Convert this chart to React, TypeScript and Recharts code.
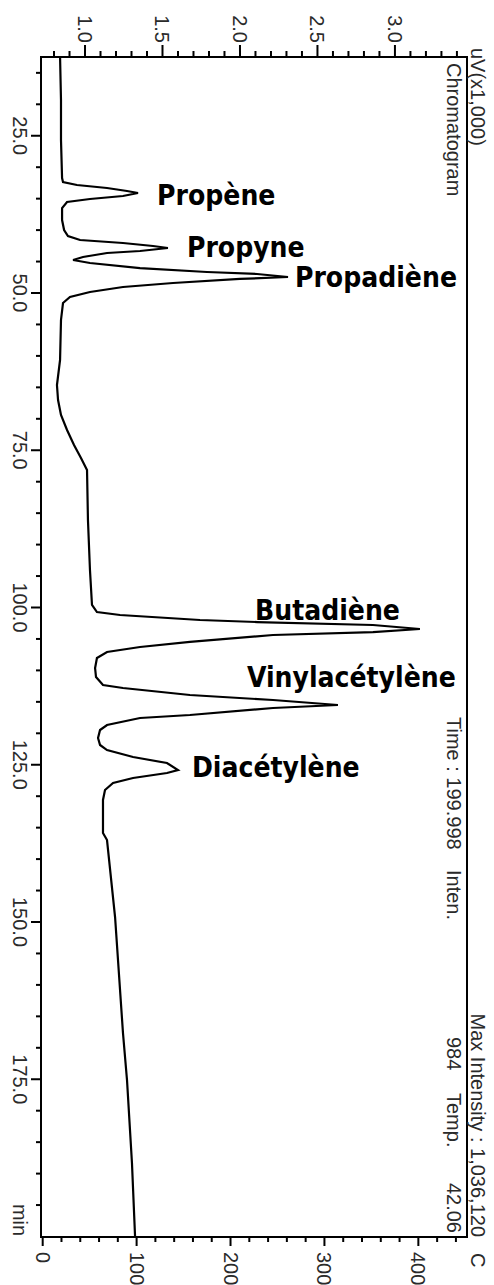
import React from 'react';
import { LineChart, Line, XAxis, YAxis, ReferenceArea, ReferenceDot } from 'recharts';

// Retention time (min) and detector signal (uV x1,000)
const timeMin = [
  // baseline + Propène
  12.48, 19.32, 25.68, 31.72, 32.35, 32.83, 33.31, 33.78, 34.10, 34.58, 35.06, 35.53, 36.49, 38.40, 39.98,
  // Propyne
  40.94, 41.57, 42.05, 42.53, 42.85, 43.32, 43.64, 44.28, 44.75,
  // Propadiène
  45.23, 46.03, 46.66, 46.98, 47.46, 47.77, 48.41, 49.05, 49.84, 50.64, 51.59,
  // baseline shift
  54.29, 60.65, 64.63, 67.01, 69.40, 71.78, 74.17, 76.23, 78.14, 86.09, 94.04, 99.60,
  // Butadiène
  100.72, 101.19, 101.99, 102.31, 102.78, 103.42, 103.90, 104.37, 105.48, 106.28, 107.07, 108.03, 109.62, 111.05,
  // Vinylacétylène
  112.32, 112.80, 113.91, 114.71, 115.50, 115.98, 117.09, 117.57, 118.68, 119.48, 120.75, 121.86,
  // Diacétylène
  122.66, 123.77, 124.72, 125.84, 126.31, 127.11, 127.90, 129.01, 130.60,
  // drift
  135.85, 136.97, 149.21, 167.65, 175.12, 188.32, 200.0,
];
const signal = [
  0.839, 0.845, 0.845, 0.852, 0.858, 0.948, 1.142, 1.271, 1.342, 1.245, 1.032, 0.884, 0.852, 0.852, 0.865,
  0.890, 0.968, 1.245, 1.439, 1.535, 1.355, 1.142, 0.987, 0.923,
  1.032, 1.355, 1.787, 2.110, 2.310, 2.000, 1.568, 1.245, 1.032, 0.903, 0.858,
  0.845, 0.839, 0.819, 0.826, 0.845, 0.884, 0.929, 0.974, 1.013, 1.019, 1.032, 1.045,
  1.077, 1.226, 1.742, 2.110, 2.858, 3.161, 2.858, 2.213, 1.677, 1.355, 1.142, 1.077, 1.065, 1.071,
  1.116, 1.245, 1.677, 2.213, 2.632, 2.213, 1.677, 1.355, 1.142, 1.097, 1.084, 1.097,
  1.142, 1.310, 1.529, 1.600, 1.529, 1.310, 1.181, 1.129, 1.116,
  1.116, 1.142, 1.194, 1.245, 1.271, 1.303, 1.323,
];

// Peak names and where their labels sit (signal, time)
const compounds = ['Propène', 'Propyne', 'Propadiène', 'Butadiène', 'Vinylacétylène', 'Diacétylène'];
const labelTime = [36.01, 44.28, 49.05, 101.99, 112.64, 126.95];
const labelSignal = [1.465, 1.658, 2.355, 2.097, 2.045, 1.69];

// Axis ticks
const timeTicks = [15, 20, 25, 30, 35, 40, 45, 50, 55, 60, 65, 70, 75, 80, 85, 90, 95, 100, 105, 110, 115, 120, 125, 130, 135, 140, 145, 150, 155, 160, 165, 170, 175, 180, 185, 190, 195];
const signalTicks = [0.8, 0.9, 1.0, 1.1, 1.2, 1.3, 1.4, 1.5, 1.6, 1.7, 1.8, 1.9, 2.0, 2.1, 2.2, 2.3, 2.4, 2.5, 2.6, 2.7, 2.8, 2.9, 3.0, 3.1, 3.2, 3.3, 3.4];
const tempTicks = [0, 20, 40, 60, 80, 100, 120, 140, 160, 180, 200, 220, 240, 260, 280, 300, 320, 340, 360, 380, 400, 420, 440];
const timeDomain = [12.48, 200.08];
const signalDomain = [0.716, 3.465];
const tempDomain = [-1.8, 451.8];

// Header texts
const headerInside = ['Chromatogram', 'Time : 199.998', 'Inten.', '984', 'Temp.', '42.06'];
const headerOutside = ['uV(x1,000)', 'Max Intensity : 1,036,120', 'C'];

const AXFONT = "'Liberation Sans', Arial, sans-serif";
const AXCOL = '#2a2a2a';
const PEAKFONT = "'DejaVu Sans Condensed', 'DejaVu Sans', sans-serif";
const TICKLINE = { stroke: '#000', strokeWidth: 2 };

function RotText({ x, y, anchor, children }: any) {
  return (
    <text x={x} y={y} transform={`rotate(90 ${x} ${y})`} textAnchor={anchor} fontFamily={AXFONT} fontSize={20} fill={AXCOL}>
      {children}
    </text>
  );
}

// tick props x,y sit at the outer end of the native (minor-length) tick line
function TimeTick(props: any) {
  const { x, y, payload } = props;
  const v = payload.value;
  if (v % 25 !== 0) return <g />;
  return (
    <g>
      <rect x={x - 5} y={y - 1} width={5} height={2} fill="#000" />
      <RotText x={x - 23} y={y} anchor="middle">{v.toFixed(1)}</RotText>
    </g>
  );
}

function TopTick(props: any) {
  const { x, y, payload } = props;
  const v = payload.value;
  const major = Math.abs(v * 2 - Math.round(v * 2)) < 1e-6;
  if (!major) return <g />;
  return (
    <g>
      <rect x={x - 1} y={y - 6} width={2} height={6} fill="#000" />
      <RotText x={x - 7} y={y - 8} anchor="end">{v.toFixed(1)}</RotText>
    </g>
  );
}

function BottomTick(props: any) {
  const { x, y, payload } = props;
  const v = payload.value;
  if (v % 100 !== 0) return <g />;
  return (
    <g>
      <rect x={x - 1} y={y} width={2} height={4} fill="#000" />
      <RotText x={x - 7} y={y + 10} anchor="start">{String(v)}</RotText>
    </g>
  );
}

function MinLabel(props: any) {
  const vb = props.viewBox || {};
  return <RotText x={vb.x + 13} y={vb.y + vb.height - 17} anchor="middle">min</RotText>;
}

function HeaderTexts(props: any) {
  const vb = props.viewBox || {};
  const right = vb.x + vb.width;
  const top = vb.y;
  const bottom = vb.y + vb.height;
  const inX = right - 20;
  const outX = right + 4;
  return (
    <g>
      <RotText x={inX} y={top + 6} anchor="start">{headerInside[0]}</RotText>
      <RotText x={inX} y={bottom - 520} anchor="start">{headerInside[1]}</RotText>
      <RotText x={inX} y={bottom - 367} anchor="start">{headerInside[2]}</RotText>
      <RotText x={inX} y={bottom - 200} anchor="start">{headerInside[3]}</RotText>
      <RotText x={inX} y={bottom - 144} anchor="start">{headerInside[4]}</RotText>
      <RotText x={inX} y={bottom - 4} anchor="end">{headerInside[5]}</RotText>
      <RotText x={outX} y={top - 9} anchor="start">{headerOutside[0]}</RotText>
      <RotText x={outX} y={bottom} anchor="end">{headerOutside[1]}</RotText>
      <RotText x={outX} y={bottom + 16} anchor="start">{headerOutside[2]}</RotText>
    </g>
  );
}

export default function App() {
  const data = timeMin.map((t, i) => ({ t, s: signal[i] }));
  return (
    <div style={{ position: 'absolute', left: 0, top: 0, width: 494, height: 1285, background: '#fff' }}>
      <LineChart width={494} height={1285} data={data} layout="vertical" margin={{ top: 0, right: 27, bottom: 0, left: 0 }}>
        <XAxis xAxisId="sig" type="number" orientation="top" domain={signalDomain} allowDataOverflow ticks={signalTicks} interval={0} height={57} tickSize={6} tickMargin={0} tickLine={TICKLINE} axisLine={false} tick={(p: any) => <TopTick {...p} />} />
        <XAxis xAxisId="temp" type="number" orientation="bottom" domain={tempDomain} allowDataOverflow ticks={tempTicks} interval={0} height={48} tickSize={5} tickMargin={0} tickLine={TICKLINE} axisLine={false} tick={(p: any) => <BottomTick {...p} />} />
        <YAxis yAxisId="time" type="number" dataKey="t" domain={timeDomain} allowDataOverflow ticks={timeTicks} interval={0} width={41} tickSize={5} tickMargin={0} tickLine={TICKLINE} axisLine={false} tick={(p: any) => <TimeTick {...p} />} label={{ value: 'min', content: MinLabel }} />
        <ReferenceArea xAxisId="sig" yAxisId="time" x1={signalDomain[0]} x2={signalDomain[1]} y1={timeDomain[0]} y2={timeDomain[1]} fill="none" fillOpacity={0} stroke="#000" strokeWidth={2} ifOverflow="visible" label={(p: any) => <HeaderTexts {...p} />} />
        <Line xAxisId="sig" yAxisId="time" dataKey="s" type="linear" stroke="#000" strokeWidth={2.2} dot={false} isAnimationActive={false} />
        {compounds.map((name, i) => (
          <ReferenceDot key={name} xAxisId="sig" yAxisId="time" x={labelSignal[i]} y={labelTime[i]} r={0}
            shape={(p: any) => (
              <text x={p.cx} y={p.cy} fontFamily={PEAKFONT} fontStretch="condensed" fontWeight="bold" fontSize={28} fill="#000">{name}</text>
            )}
          />
        ))}
      </LineChart>
    </div>
  );
}
